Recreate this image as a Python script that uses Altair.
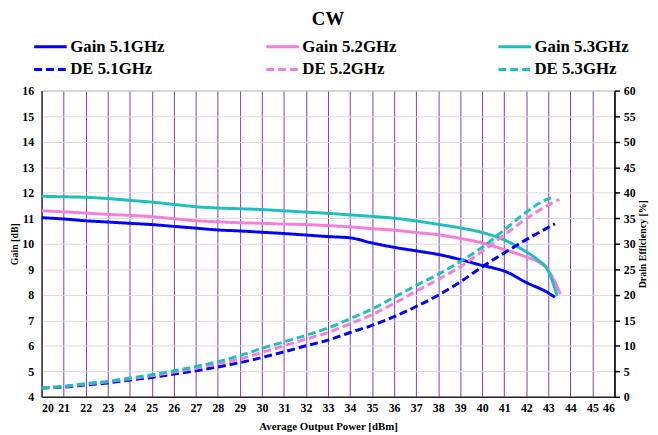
import altair as alt
import pandas as pd

# ---------------- data ----------------
SERIES = ["Gain 5.1GHz", "Gain 5.2GHz", "Gain 5.3GHz", "DE 5.1GHz", "DE 5.2GHz", "DE 5.3GHz"]
COLORS = ["#0000FF", "#F47FD8", "#1FBFBF", "#0000FF", "#F47FD8", "#1FBFBF"]

POWER = list(range(20, 44))

GAIN_51_X = POWER[:21] + [40.5, 41, 42, 43, 43.3]
GAIN_51 = [11.02, 10.97, 10.90, 10.85, 10.80, 10.75, 10.68, 10.61, 10.54, 10.50,
           10.45, 10.40, 10.34, 10.28, 10.23, 10.03, 9.86, 9.72, 9.58, 9.38,
           9.15, 9.05, 8.93, 8.48, 8.07, 7.90]

GAIN_52_X = POWER[:23] + [42.5, 43, 43.55]
GAIN_52 = [11.29, 11.25, 11.20, 11.15, 11.11, 11.06, 10.98, 10.90, 10.86, 10.82,
           10.80, 10.77, 10.75, 10.71, 10.66, 10.59, 10.53, 10.44, 10.35, 10.21,
           10.03, 9.77, 9.48, 9.31, 8.95, 8.03]

GAIN_53_X = POWER[:23] + [42.5, 43, 43.4]
GAIN_53 = [11.86, 11.84, 11.82, 11.77, 11.70, 11.63, 11.54, 11.45, 11.40, 11.37,
           11.34, 11.29, 11.24, 11.19, 11.13, 11.07, 11.00, 10.89, 10.76, 10.62,
           10.44, 10.15, 9.68, 9.38, 8.93, 7.96]

DE_51_X = POWER + [43.3]
DE_51 = [1.74, 1.92, 2.32, 2.71, 3.29, 3.80, 4.45, 5.10, 5.85, 6.70,
         7.70, 8.80, 10.0, 11.1, 12.6, 14.0, 15.7, 17.7, 19.9, 22.5,
         25.5, 28.2, 30.8, 33.2, 33.9]

DE_52_X = POWER + [43.5]
DE_52 = [1.74, 2.00, 2.50, 2.97, 3.55, 4.13, 4.84, 5.61, 6.50, 7.40,
         8.70, 10.0, 11.3, 12.6, 14.3, 16.1, 18.3, 20.7, 23.0, 25.5,
         28.5, 31.7, 34.9, 37.6, 38.7]

DE_53_X = POWER + [43.3]
DE_53 = [1.74, 2.06, 2.58, 3.03, 3.68, 4.32, 5.10, 5.93, 6.90, 8.07,
         9.48, 10.77, 12.06, 13.48, 15.3, 17.2, 19.5, 21.8, 24.0, 26.5,
         29.3, 32.7, 36.2, 38.8, 39.1]

X_TICKS = list(range(20, 47))
GAIN_TICKS = list(range(4, 17))
DE_TICKS = list(range(0, 61, 5))


def frame(name, xs, ys):
    return pd.DataFrame({"power": xs, "value": ys, "series": name})


df_gain = pd.concat([
    frame(SERIES[0], GAIN_51_X, GAIN_51),
    frame(SERIES[1], GAIN_52_X, GAIN_52),
    frame(SERIES[2], GAIN_53_X, GAIN_53),
])
df_de = pd.concat([
    frame(SERIES[3], DE_51_X, DE_51),
    frame(SERIES[4], DE_52_X, DE_52),
    frame(SERIES[5], DE_53_X, DE_53),
])

FONT = "Liberation Serif"
DASHES = [[1, 0], [1, 0], [1, 0], [8, 4], [8, 4], [8, 4]]

legend = alt.Legend(
    title=None, orient="none", legendX=-9, legendY=-53, columns=3,
    direction="horizontal",
    symbolType="stroke", symbolSize=1089, symbolStrokeWidth=3,
    labelFont=FONT, labelFontSize=17, labelFontWeight="bold", labelColor="black",
    labelLimit=0, labelOffset=2, columnPadding=101, rowPadding=5, clipHeight=17,
)
color = alt.Color("series:N", scale=alt.Scale(domain=SERIES, range=COLORS), legend=legend)
dash = alt.StrokeDash("series:N", scale=alt.Scale(domain=SERIES, range=DASHES), legend=legend)

x_enc = alt.X(
    "power:Q",
    scale=alt.Scale(domain=[20, 46], nice=False, zero=False),
    axis=alt.Axis(
        values=X_TICKS, title="Average Output Power [dBm]", grid=True,
        gridColor="#7B3FBF", gridWidth=1, gridOpacity=1, ticks=False,
        labelPadding=6, titleFontSize=11, titlePadding=7,
        domainColor="#262626", domainWidth=1.5,
    ),
)

gain = alt.Chart(df_gain).mark_line(strokeWidth=3, interpolate="monotone").encode(
    x=x_enc,
    y=alt.Y(
        "value:Q",
        scale=alt.Scale(domain=[4, 16], nice=False, zero=False),
        axis=alt.Axis(
            orient="left", values=GAIN_TICKS, title="Gain [dB]", grid=True,
            gridColor="#d9d9d9", gridWidth=1, ticks=False, labelPadding=8,
            titleFontSize=10, titlePadding=2, domainColor="#404040", domainWidth=1.5,
        ),
    ),
    color=color,
    strokeDash=dash,
    order=alt.Order("power:Q"),
)

de = alt.Chart(df_de).mark_line(strokeWidth=3, interpolate="monotone").encode(
    x=x_enc,
    y=alt.Y(
        "value:Q",
        scale=alt.Scale(domain=[0, 60], nice=False, zero=False),
        axis=alt.Axis(
            orient="right", values=DE_TICKS, title="Drain Efficiency [%]", grid=False,
            ticks=True, tickSize=5, tickColor="black", tickWidth=1.5, labelPadding=4,
            titleFontSize=10, titlePadding=2, titleAngle=270, titleBaseline="top",
            domainColor="black", domainWidth=1.5,
        ),
    ),
    color=color,
    strokeDash=dash,
    order=alt.Order("power:Q"),
)

chart = alt.layer(gain, de).resolve_scale(y="independent").properties(
    width=580, height=310,
    autosize=alt.AutoSizeParams(type="none"),
    padding={"left": 34, "top": 81, "right": 36, "bottom": 36},
    title=alt.TitleParams("CW", font=FONT, fontSize=19, fontWeight="bold",
                          color="black", anchor="middle", offset=9),
).configure_view(
    stroke="#a6a6a6", strokeWidth=1
).configure_axis(
    labelFont=FONT, labelFontSize=12, labelFontWeight="bold", labelColor="black",
    titleFont=FONT, titleFontWeight="bold", titleColor="black",
)

chart.save("out.html", embed_options={"renderer": "svg", "actions": False})
